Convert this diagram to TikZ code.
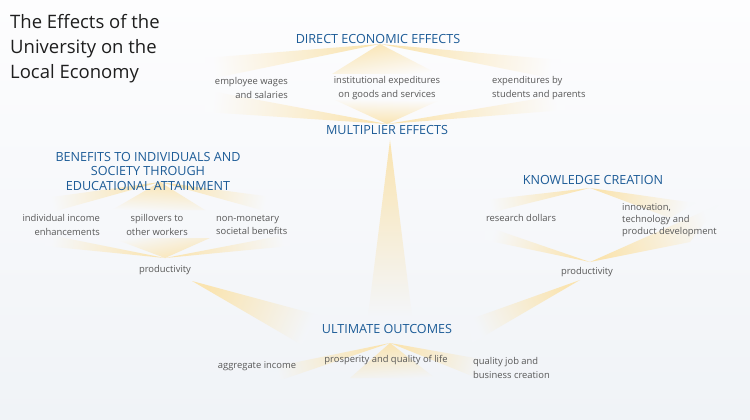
\documentclass[tikz,border=0pt]{standalone}
\usepackage{fontspec}
\setmainfont{Open Sans}
\usetikzlibrary{calc}
\definecolor{beam}{RGB}{250,228,176}
\definecolor{bgtop}{RGB}{253,253,254}
\definecolor{bgbot}{RGB}{240,243,247}
\definecolor{headc}{RGB}{29,92,151}
\definecolor{itemc}{RGB}{88,88,88}
\definecolor{titlec}{RGB}{30,30,30}
\newcommand{\beamw}[3]{%
  \path let \p1=(#1), \p2=($(#2)!0.5!(#3)$),
     \n1={atan2(\y1-\y2,\x1-\x2)-90},
     \n2={-\y2/4.2} in
   \pgfextra{\xdef\bang{\n1}\pgfmathtruncatemacro\bff{\n2}\xdef\bfrac{\bff}};
  \colorlet{beamend}{bgbot!\bfrac!bgtop}%
  \shade[top color=beam, bottom color=beamend, shading angle=\bang] (#1) -- (#2) -- (#3) -- cycle;
}
\begin{document}
\begin{tikzpicture}[x=1pt,y=-1pt,
  head/.style={text=headc, font=\fontsize{12.6}{14.5}\selectfont, align=center, inner sep=0pt},
  itemtext/.style={text=itemc, font=\fontsize{9.4}{13.5}\selectfont, inner sep=0pt},
  titletext/.style={text=titlec, font=\fontsize{18.5}{25}\selectfont, align=left, inner sep=0pt, anchor=west}]
\useasboundingbox (0,0) rectangle (750,420);
\shade[top color=bgtop, bottom color=bgbot] (0,0) rectangle (750,420);
% beam coordinates
\coordinate (dA) at (380,44);
\coordinate (mA) at (387,124);
\coordinate (mB) at (390,140);
\coordinate (bA) at (160,182);
\coordinate (pL) at (165,258);
\coordinate (pLo) at (192,281);
\coordinate (kA) at (590,188);
\coordinate (pR) at (590,262);
\coordinate (pRo) at (580,280);
\coordinate (uA) at (390,343);
% top group
\beamw{dA}{205,58}{205,80}
\beamw{dA}{332,74}{438,74}
\beamw{dA}{560,60}{560,80}
\beamw{mA}{205,90}{205,112}
\beamw{mA}{335,100}{440,100}
\beamw{mA}{565,94}{565,110}
\beamw{mB}{368,316}{412,316}
% left group
\beamw{bA}{45,198}{45,214}
\beamw{bA}{112,210}{205,210}
\beamw{bA}{272,197}{272,213}
\beamw{pL}{45,234}{45,246}
\beamw{pL}{112,238}{210,238}
\beamw{pL}{290,234}{290,246}
\beamw{pLo}{318,315}{302,345}
% right group
\beamw{kA}{485,200}{485,214}
\beamw{kA}{695,203}{670,218}
\beamw{pR}{485,226}{485,240}
\beamw{pR}{718,205}{690,242}
\beamw{pRo}{468,320}{472,343}
% bottom group
\beamw{uA}{268,368}{272,383}
\beamw{uA}{350,378}{435,378}
\beamw{uA}{486,360}{482,380}
% texts
\node[titletext] (title) at (10,49) {The Effects of the\\University on the\\Local Economy};
\node[head] (direct) at (378,39) {DIRECT ECONOMIC EFFECTS};
\node[itemtext, anchor=east, align=right] (wages) at (288,88) {employee wages\\and salaries};
\node[itemtext, align=center] (inst) at (387,88) {institutional expeditures\\on goods and services};
\node[itemtext, anchor=west, align=left] (expend) at (492,88) {expenditures by\\students and parents};
\node[head] (mult) at (387,130) {MULTIPLIER EFFECTS};
\node[head] (benefits) at (148,171) {BENEFITS TO INDIVIDUALS AND\\SOCIETY THROUGH\\EDUCATIONAL ATTAINMENT};
\node[itemtext, anchor=east, align=right] (indiv) at (100,225) {individual income\\enhancements};
\node[itemtext, align=center] (spill) at (157,225) {spillovers to\\other workers};
\node[itemtext, anchor=west, align=left] (nonmon) at (216,225) {non-monetary\\societal benefits};
\node[itemtext] (prodL) at (165,270) {productivity};
\node[head] (know) at (593,180) {KNOWLEDGE CREATION};
\node[itemtext] (research) at (521,218) {research dollars};
\node[itemtext, anchor=west, align=left, font=\fontsize{9.4}{12}\selectfont] (innov) at (622,220) {innovation,\\technology and\\product development};
\node[itemtext] (prodR) at (587,272) {productivity};
\node[head] (ult) at (387,329) {ULTIMATE OUTCOMES};
\node[itemtext] (aggr) at (257,366) {aggregate income};
\node[itemtext] (prosp) at (386,360) {prosperity and quality of life};
\node[itemtext, anchor=west, align=left] (qual) at (473,368) {quality job and\\business creation};
\end{tikzpicture}
\end{document}
